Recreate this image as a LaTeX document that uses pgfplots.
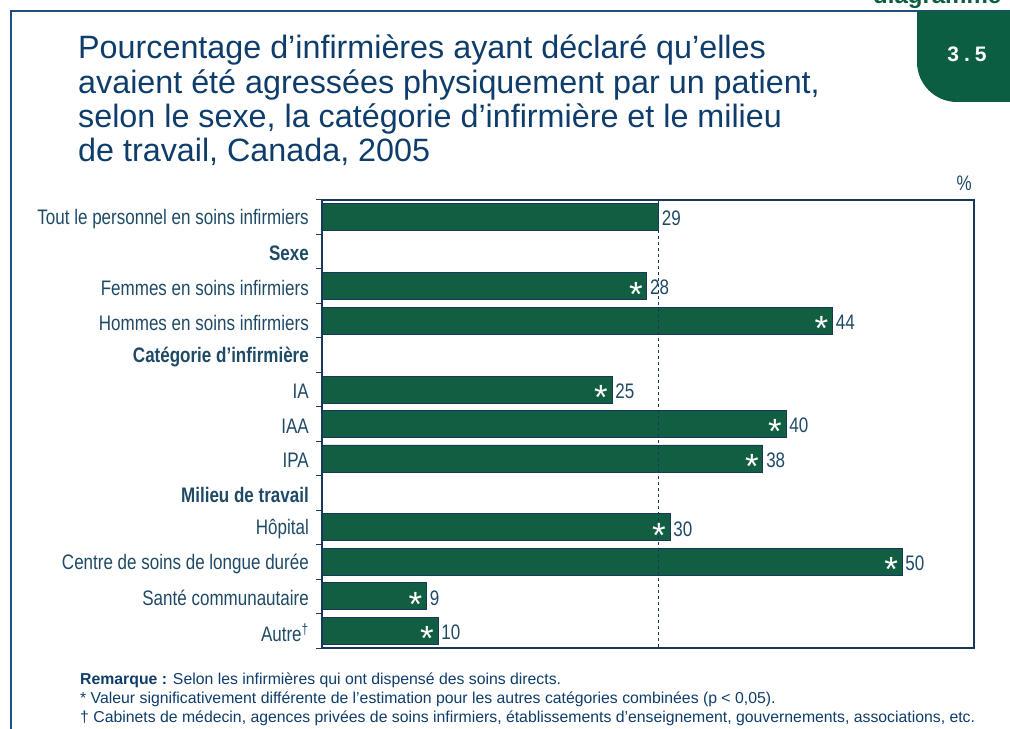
\documentclass[border=0pt]{standalone}
\usepackage{fontspec}
\usepackage{pgfplots}
\pgfplotsset{compat=1.18}
\setmainfont{Liberation Sans}
\newfontfamily\cond{Liberation Sans}[FakeStretch=0.81]
\definecolor{bargreen}{HTML}{115E42}
\definecolor{tabgreen}{HTML}{0B5E41}
\definecolor{navy}{HTML}{0F3D6B}
\definecolor{labcol}{HTML}{1F4A66}
\definecolor{framecol}{HTML}{1F4F7F}
\definecolor{barline}{HTML}{17385A}

\pgfplotstableread{
row val
0 29
2 28
3 44
5 25
6 40
7 38
9 30
10 50
11 9
12 10
}\maindata

\pgfplotstableread{
row val
2 28
3 44
5 25
6 40
7 38
9 30
10 50
11 9
12 10
}\stardata

\begin{document}
\begin{tikzpicture}[x=1bp,y=1bp]
\useasboundingbox (0,0) rectangle (1010,729);
\begin{scope}
\clip (0,0) rectangle (1010,729);
% frame
\draw[framecol, line width=1.5bp] (11,0) -- (11,718) -- (1010,718);
% tab
\fill[tabgreen] (917,718) -- (917,667) arc[start angle=180,end angle=270,radius=40] -- (1010,627) -- (1010,718) -- cycle;
\node[text=white, font=\fontsize{21bp}{21bp}\selectfont\bfseries] at (967,675) {3\kern5bp.\kern5bp5};
\node[anchor=base west, text=tabgreen, font=\fontsize{24bp}{24bp}\selectfont\bfseries, inner sep=0pt] at (873,725) {diagramme};
\end{scope}
% title
\begin{scope}[every node/.style={anchor=base west, inner sep=0pt, text=navy, font=\fontsize{32.3bp}{32bp}\selectfont}]
\node at (78,670) {Pourcentage d’infirmières ayant déclaré qu’elles};
\node at (78,635) {avaient été agressées physiquement par un patient,};
\node at (78,601) {selon le sexe, la catégorie d’infirmière et le milieu};
\node at (78,567) {de travail, Canada, 2005};
\end{scope}
\node[anchor=base east, inner sep=0pt, text=labcol, font=\cond\fontsize{21bp}{21bp}\selectfont] at (972,538) {\%};
% notes
\begin{scope}[every node/.style={anchor=base west, inner sep=0pt, text=navy, font=\fontsize{15.8bp}{15.8bp}\selectfont}]
\node at (80,44) {\textbf{Remarque :} Selon les infirmières qui ont dispensé des soins directs.};
\node at (80,25) {* Valeur significativement différente de l’estimation pour les autres catégories combinées (p < 0,05).};
\node at (80,6) {† Cabinets de médecin, agences privées de soins infirmiers, établissements d’enseignement, gouvernements, associations, etc.};
\end{scope}

\begin{axis}[
  at={(322bp,81bp)}, anchor=south west,
  scale only axis, width=652bp, height=448bp,
  xmin=0, xmax=56.2, ymin=-0.5, ymax=12.5,
  y dir=reverse,
  xbar, bar width=27bp, bar shift=0pt,
  xtick=\empty,
  ytick={0,...,12},
  yticklabels={Tout le personnel en soins infirmiers, \textbf{Sexe}, Femmes en soins infirmiers, Hommes en soins infirmiers, \textbf{Catégorie d’infirmière}, IA, IAA, IPA, \textbf{Milieu de travail}, Hôpital, Centre de soins de longue durée, Santé communautaire, Autre\textsuperscript{†}},
  ytick pos=left,
  major tick length=0pt,
  extra y ticks={-0.5,0.5,...,12.5},
  extra y tick labels={},
  extra y tick style={major tick length=6bp, tick align=outside, tick style={draw=barline, line width=1bp}},
  yticklabel style={inner sep=0pt, xshift=-13bp, yshift=-2bp, text=labcol, font=\cond\fontsize{21bp}{21bp}\selectfont},
  /pgf/number format/assume math mode=true,
  axis line style={draw=barline, line width=1.2bp},
  clip=false,
]
\addplot[fill=bargreen, draw=barline, line width=0.8bp,
  nodes near coords, point meta=x,
  nodes near coords style={anchor=west, inner xsep=3bp, yshift=-1.5bp, text=labcol, font=\cond\fontsize{21bp}{21bp}\selectfont}]
  table[x=val, y=row] {\maindata};
\addplot[draw=none, fill=none,
  nodes near coords={*},
  nodes near coords style={anchor=base east, inner sep=0pt, xshift=-4bp, yshift=-20bp, text=white, font=\fontsize{35bp}{35bp}\selectfont}]
  table[x=val, y=row] {\stardata};
\draw[barline, dash pattern=on 3bp off 3bp, line width=1bp] (axis cs:29,-0.5) -- (axis cs:29,12.5);
\end{axis}
\end{tikzpicture}
\end{document}
